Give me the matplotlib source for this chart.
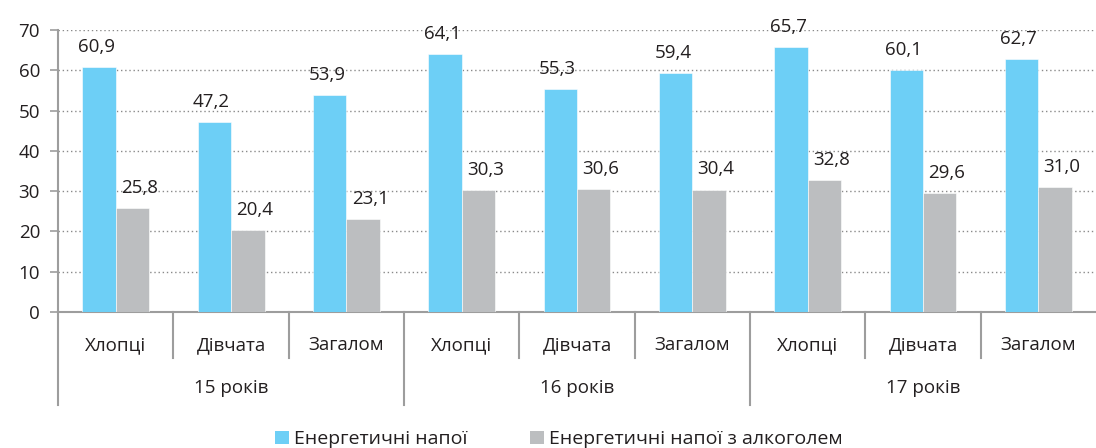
import matplotlib
matplotlib.use("Agg")
import matplotlib.pyplot as plt
from matplotlib.patches import Patch
from matplotlib.transforms import blended_transform_factory
import numpy as np

plt.rcParams["font.family"] = ["Open Sans", "DejaVu Sans"]

# --------------------------------------------------------------------- дані
categories = ["Хлопці", "Дівчата", "Загалом"] * 3
groups = ["15 років", "16 років", "17 років"]
energy = [60.9, 47.2, 53.9, 64.1, 55.3, 59.4, 65.7, 60.1, 62.7]
energy_alcohol = [25.8, 20.4, 23.1, 30.3, 30.6, 30.4, 32.8, 29.6, 31.0]
series_names = ["Енергетичні напої", "Енергетичні напої з алкоголем"]

BLUE = "#6dcff6"
GREY = "#bcbec0"
AXIS = "#9d9d9d"
TEXT = "#231f20"
FS = 13.5

fig = plt.figure(figsize=(10.96, 4.48), dpi=100)
ax = fig.add_axes([0.053, 0.3036, 0.947, 0.6295])

x = np.arange(len(categories))
w = 0.29
b1 = ax.bar(x - w / 2, energy, w, color=BLUE, edgecolor="white", linewidth=0.4, zorder=3)
b2 = ax.bar(x + w / 2, energy_alcohol, w, color=GREY, edgecolor="white", linewidth=0.4, zorder=3)

# підписи значень над стовпчиками (десяткова кома)
for bars, dx in ((b1, -2), (b2, 5)):
    for r in bars:
        v = r.get_height()
        ax.annotate(f"{v:.1f}".replace(".", ","),
                    xy=(r.get_x() + r.get_width() / 2, v),
                    xytext=(dx, 8), textcoords="offset points",
                    ha="center", va="bottom", fontsize=FS, color=TEXT)

ax.set_xlim(-0.5, len(categories) - 0.5)
ax.set_ylim(0, 70)
ax.set_yticks(range(0, 71, 10))
ax.yaxis.grid(True, linestyle=(0, (1, 2)), color="#8a8a8a", linewidth=1.0, zorder=0)
ax.set_xticks([])
ax.tick_params(axis="y", length=6, width=1.2, color=AXIS, labelsize=FS,
               labelcolor=TEXT, pad=7)
for s in ("top", "right"):
    ax.spines[s].set_visible(False)
for s in ("left", "bottom"):
    ax.spines[s].set_color(AXIS)
    ax.spines[s].set_linewidth(1.5)

# двоярусна вісь категорій
trans = blended_transform_factory(ax.transData, ax.transAxes)
for i in range(len(categories)):
    edge = i - 0.5
    low = -0.33 if i % 3 == 0 else -0.163
    ax.plot([edge, edge], [0, low], color=AXIS, lw=1.5, transform=trans,
            clip_on=False)
    ax.text(i, -0.117, categories[i], transform=trans, ha="center",
            va="center", fontsize=FS, color=TEXT)
for g, name in enumerate(groups):
    ax.text(3 * g + 1, -0.27, name, transform=trans, ha="center",
            va="center", fontsize=FS, color=TEXT)

handles = [Patch(facecolor=BLUE), Patch(facecolor=GREY)]
fig.legend(handles, series_names, loc="lower center", ncol=2, frameon=False,
           bbox_to_anchor=(0.51, -0.04), fontsize=FS + 0.5, handlelength=0.7,
           handleheight=0.7, handletextpad=0.3, columnspacing=3.2,
           labelcolor=TEXT)

fig.savefig("out.png", dpi=100)
